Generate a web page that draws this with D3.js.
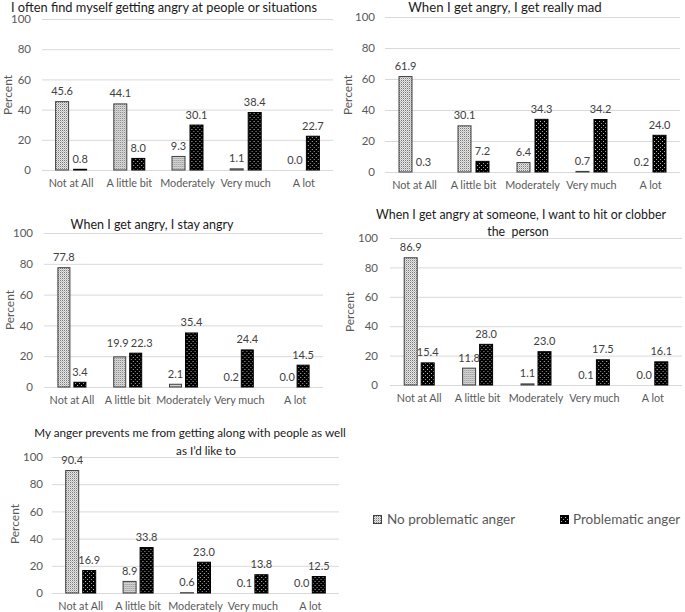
<!DOCTYPE html>
<html><head><meta charset="utf-8">
<script src="https://cdn.jsdelivr.net/npm/d3@7"></script>
<style>
html,body{margin:0;padding:0;background:#fff;}
svg{display:block;font-family:Lato, "Open Sans", sans-serif;}
</style></head>
<body>
<svg id="chart" width="685" height="612"></svg>
<script>
// ---- data ----
const categories = ["Not at All", "A little bit", "Moderately", "Very much", "A lot"];
const seriesNames = ["No problematic anger", "Problematic anger"];
const yTicks = [0, 20, 40, 60, 80, 100];

const title1 = ["I often find myself getting angry at people or situations"];
const noAnger1 = [45.6, 44.1, 9.3, 1.1, 0.0];
const probAnger1 = [0.8, 8.0, 30.1, 38.4, 22.7];

const title2 = ["When I get angry, I get really mad"];
const noAnger2 = [61.9, 30.1, 6.4, 0.7, 0.2];
const probAnger2 = [0.3, 7.2, 34.3, 34.2, 24.0];

const title3 = ["When I get angry, I stay angry"];
const noAnger3 = [77.8, 19.9, 2.1, 0.2, 0.0];
const probAnger3 = [3.4, 22.3, 35.4, 24.4, 14.5];

const title4 = ["When I get angry at someone, I want to hit or clobber", "the  person"];
const noAnger4 = [86.9, 11.8, 1.1, 0.1, 0.0];
const probAnger4 = [15.4, 28.0, 23.0, 17.5, 16.1];

const title5 = ["My anger prevents me from getting along with people as well", "as I\u2019d like to"];
const noAnger5 = [90.4, 8.9, 0.6, 0.1, 0.0];
const probAnger5 = [16.9, 33.8, 23.0, 13.8, 12.5];

// ---- layout (positions only) ----
const panels = [
  {title: title1, a: noAnger1, b: probAnger1, x0: 42, x1: 333, yTop: 19, yBot: 170,
   tPos: [[164, 12]], tSize: 12.8, pct: [8, 95], barW: 14, gap: 4, tp: 11},
  {title: title2, a: noAnger2, b: probAnger2, x0: 385, x1: 680, yTop: 17, yBot: 172,
   tPos: [[505, 11.5]], tSize: 13.2, pct: [348, 95], barW: 14, gap: 4, tp: 10},
  {title: title3, a: noAnger3, b: probAnger3, x0: 44, x1: 323, yTop: 233, yBot: 387,
   tPos: [[152, 229]], tSize: 12.5, pct: [10, 310], barW: 13, gap: 3, tp: 11},
  {title: title4, a: noAnger4, b: probAnger4, x0: 390, x1: 682, yTop: 238, yBot: 385,
   tPos: [[521, 219], [518, 236]], tSize: 12.4, pct: [350, 312], barW: 14, gap: 3, tp: 12},
  {title: title5, a: noAnger5, b: probAnger5, x0: 52, x1: 339, yTop: 457, yBot: 593,
   tPos: [[190, 437], [206, 455]], tSize: 11.7, pct: [15, 524], barW: 14, gap: 3, tp: 9}
];

const svg = d3.select("#chart");
const defs = svg.append("defs");

// light dotted pattern
const p1 = defs.append("pattern").attr("id", "patLight").attr("patternUnits", "userSpaceOnUse")
  .attr("width", 2).attr("height", 2);
p1.append("rect").attr("width", 2).attr("height", 2).attr("fill", "#e6e6e6");
p1.append("rect").attr("width", 1).attr("height", 1).attr("fill", "#7a7a7a");
p1.append("rect").attr("x", 1).attr("y", 1).attr("width", 1).attr("height", 1).attr("fill", "#bdbdbd");

// dark pattern with white dots
const p2 = defs.append("pattern").attr("id", "patDark").attr("patternUnits", "userSpaceOnUse")
  .attr("width", 4).attr("height", 4);
p2.append("rect").attr("width", 4).attr("height", 4).attr("fill", "#000");
p2.append("rect").attr("x", 1).attr("y", 1).attr("width", 1).attr("height", 1).attr("fill", "#bfbfbf");
p2.append("rect").attr("x", 3).attr("y", 3).attr("width", 1).attr("height", 1).attr("fill", "#9a9a9a");

const fills = ["url(#patLight)", "url(#patDark)"];
const strokes = ["#404040", "#000"];

panels.forEach(p => {
  const g = svg.append("g");
  const x = d3.scaleBand().domain(categories).range([p.x0, p.x1]).padding(0);
  const bw = x.bandwidth();
  const half = p.barW + p.gap / 2;
  const xs = d3.scaleBand().domain(seriesNames)
    .range([bw / 2 - half, bw / 2 + half])
    .paddingInner(p.gap / (p.barW + p.gap)).paddingOuter(0);
  const y = d3.scaleLinear().domain([0, 100]).range([p.yBot, p.yTop]);

  // gridlines
  g.append("g").selectAll("line").data(yTicks).join("line")
    .attr("x1", p.x0).attr("x2", p.x1)
    .attr("y1", d => y(d) + 0.5).attr("y2", d => y(d) + 0.5)
    .attr("stroke", "#d9d9d9").attr("stroke-width", 1);

  // y axis
  const ya = g.append("g").attr("transform", `translate(${p.x0},0)`)
    .call(d3.axisLeft(y).tickValues(yTicks).tickSize(0).tickPadding(p.tp));
  ya.select(".domain").remove();
  ya.selectAll("text").attr("fill", "#595959").style("font-size", "11.5px")
    .style("font-family", "Lato, sans-serif");

  // x axis
  const xa = g.append("g").attr("transform", `translate(0,${p.yBot})`)
    .call(d3.axisBottom(x).tickSize(0).tickPadding(9));
  xa.select(".domain").remove();
  xa.selectAll("text").attr("fill", "#595959").style("font-size", "10.8px")
    .style("font-family", "Lato, sans-serif");

  // bars
  const rows = categories.map((c, i) => ({c, vals: [p.a[i], p.b[i]]}));
  const grp = g.append("g").selectAll("g").data(rows).join("g")
    .attr("transform", d => `translate(${x(d.c)},0)`);
  grp.selectAll("rect").data(d => d.vals.map((v, k) => ({v, k}))).join("rect")
    .attr("x", d => xs(seriesNames[d.k]) + 0.5)
    .attr("y", d => y(d.v) + 0.5)
    .attr("width", xs.bandwidth() - 1)
    .attr("height", d => Math.max(0, y(0) - y(d.v) - 0.5))
    .attr("fill", d => fills[d.k])
    .attr("stroke", d => d.v < 0.05 ? "#d0d0d0" : strokes[d.k])
    .attr("stroke-width", 1);

  // value labels, nudged apart when the pair would collide
  grp.each(function(d) {
    const ly = d.vals.map(v => y(v) - 6);
    const lx = d.vals.map((v, k) => xs(seriesNames[k]) + xs.bandwidth() / 2);
    if (Math.abs(ly[0] - ly[1]) < 12) {
      const m = Math.min(ly[0], ly[1]);
      ly[0] = m; ly[1] = m;
      lx[0] -= 2; lx[1] += 6;
    }
    d3.select(this).selectAll("text").data(d.vals).join("text")
      .attr("x", (v, k) => lx[k]).attr("y", (v, k) => ly[k])
      .attr("text-anchor", "middle")
      .attr("fill", "#404040").style("font-size", "11px")
      .text(v => d3.format(".1f")(v));
  });

  // title
  p.title.forEach((t, i) => {
    g.append("text").attr("x", p.tPos[i][0]).attr("y", p.tPos[i][1])
      .attr("text-anchor", "middle").attr("fill", "#1a1a1a")
      .style("white-space", "pre")
      .style("font-size", p.tSize + "px").text(t);
  });

  // y label
  g.append("text").attr("transform", `translate(${p.pct[0]},${p.pct[1]}) rotate(-90)`)
    .attr("text-anchor", "middle").attr("dy", "0.35em")
    .attr("fill", "#595959").style("font-size", "12px").text("Percent");
});

// legend
const legendPos = [[373, 515, 387], [560, 515, 573]];
const lg = svg.append("g");
seriesNames.forEach((s, k) => {
  lg.append("rect").attr("x", legendPos[k][0] + 0.5).attr("y", legendPos[k][1] + 0.5)
    .attr("width", 8).attr("height", 8).attr("fill", fills[k]).attr("stroke", strokes[k]);
  lg.append("text").attr("x", legendPos[k][2]).attr("y", legendPos[k][1] + 9)
    .attr("fill", "#595959").style("font-size", "13.5px").text(s);
});
</script>
</body></html>
